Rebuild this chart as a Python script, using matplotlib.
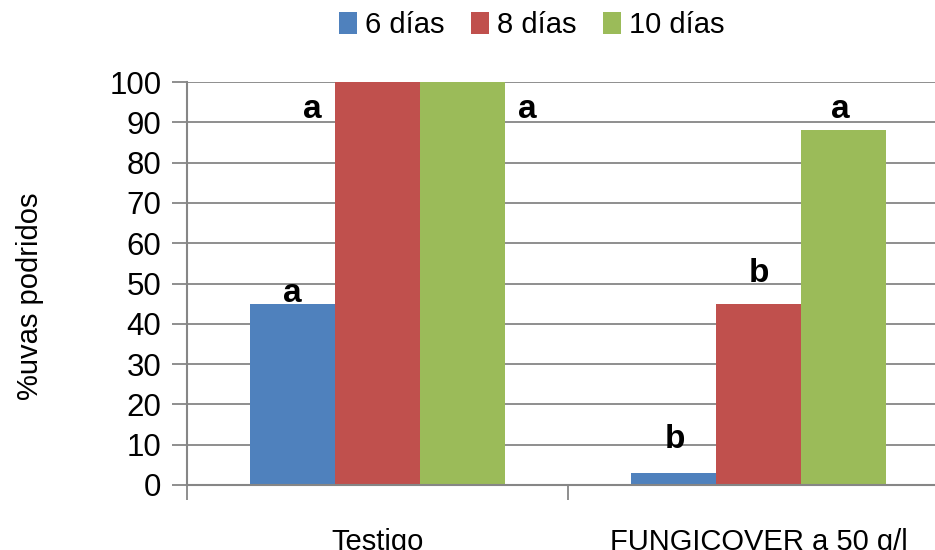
import matplotlib.pyplot as plt
import numpy as np

plt.rcParams['font.family'] = ['Liberation Sans', 'DejaVu Sans']

categories = ['Testigo', 'FUNGICOVER a 50 g/l']
series_names = ['6 días', '8 días', '10 días']
values = {
    '6 días': [45, 3],
    '8 días': [100, 45],
    '10 días': [100, 88],
}
letters = {
    '6 días': ['a', 'b'],
    '8 días': ['a', 'b'],
    '10 días': ['a', 'a'],
}
colors = ['#4F81BD', '#C0504D', '#9BBB59']

# where the significance letters sit (x offset from category centre, baseline y)
letter_pos = {
    '6 días': [(-0.224, 45.4), (-0.219, 9.2)],
    '8 días': [(-0.172, 91.0), (0.0, 50.4)],
    '10 días': [(0.393, 91.0), (0.214, 91.0)],
}

fig = plt.figure(figsize=(9.35, 5.5), dpi=100)
ax = fig.add_axes([187 / 935, 1 - 485 / 550, 762 / 935, 403 / 550])

x = np.arange(len(categories))
width = 0.223
for i, name in enumerate(series_names):
    ax.bar(x + (i - 1) * width, values[name], width, color=colors[i],
           label=name, zorder=3)
    for j in range(len(categories)):
        dx, y = letter_pos[name][j]
        ax.text(x[j] + dx, y, letters[name][j], ha='center', va='baseline',
                fontsize=24, fontweight='bold', zorder=4)

ax.set_xlim(-0.5, 1.5)
ax.set_ylim(0, 100)
ax.set_yticks(range(0, 101, 10))
ax.set_xticks([-0.5, 0.5, 1.5])
ax.set_xticklabels([])
ax.set_xticks(x, minor=True)
ax.set_xticklabels(categories, minor=True)
ax.tick_params(axis='x', which='minor', length=0, pad=31, labelsize=21)
ax.tick_params(axis='x', which='major', length=11, color='#868686',
               width=1.3, direction='out')
ax.tick_params(axis='y', length=11, color='#868686', width=1.3,
               labelsize=22.5, pad=7.5)

ax.grid(axis='y', color='#868686', linewidth=1.3, zorder=0)
for side in ['top', 'right']:
    ax.spines[side].set_visible(False)
for side in ['left', 'bottom']:
    ax.spines[side].set_color('#868686')
    ax.spines[side].set_linewidth(1.5)
    ax.spines[side].set_zorder(3.5)

ax.set_ylabel('%uvas podridos', fontsize=21)
ax.yaxis.set_label_coords((44 - 187) / 762, (485 - 296) / 403)

fig.legend(loc='center', bbox_to_anchor=(532 / 935, 1 - 25 / 550),
           ncol=3, frameon=False, fontsize=21, handlelength=0.6,
           handleheight=0.8, handletextpad=0.3, columnspacing=0.9)

fig.savefig('out.png', dpi=100)
